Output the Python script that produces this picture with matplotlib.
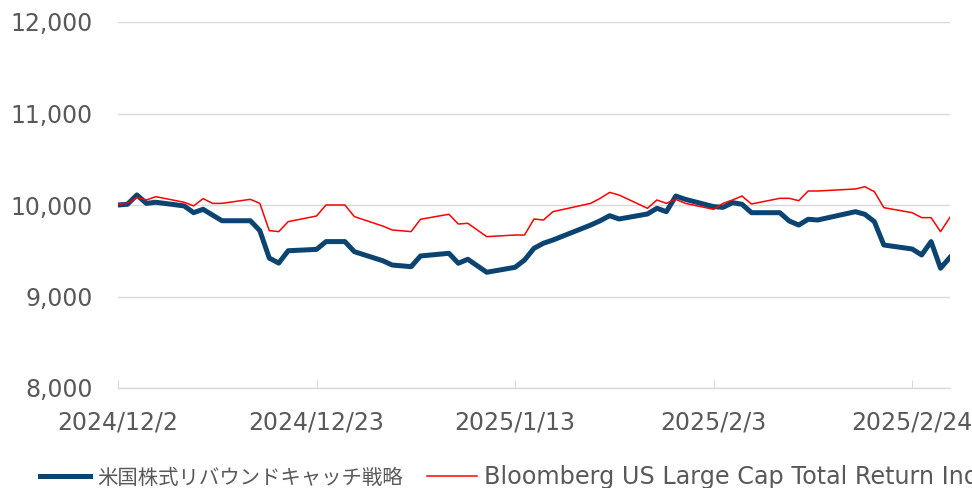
import matplotlib
matplotlib.use("Agg")
import matplotlib.pyplot as plt
import pandas as pd

plt.rcParams["font.family"] = ["DejaVu Sans", "Noto Sans CJK JP"]

# US trading days, Dec 2024 - Feb 2025
holidays = ["2024-12-25", "2025-01-01", "2025-01-09", "2025-01-20", "2025-02-17"]
dates = pd.bdate_range("2024-12-02", "2025-02-28")
dates = dates[~dates.isin(pd.to_datetime(holidays))]

strategy = [
    10000, 10008, 10110, 10018, 10030, 9990, 9916, 9953, 9890, 9828,
    9828, 9720, 9420, 9365, 9500, 9515, 9600, 9600, 9490, 9391, 9344,
    9326, 9443, 9472, 9363, 9407, 9265, 9319, 9399, 9527, 9582,
    9617, 9781, 9828, 9883, 9847, 9902, 9964, 9927, 10098, 10062,
    9982, 9975, 10026, 10008, 9916, 9916, 9825, 9781, 9844, 9836,
    9927, 9898, 9818, 9563, 9519, 9454, 9600, 9309, 9428,
]
index = [
    10008, 10018, 10084, 10055, 10091, 10030, 9990, 10070, 10018, 10018,
    10062, 10018, 9720, 9709, 9818, 9880, 10000, 10000, 9873, 9770, 9727,
    9709, 9844, 9899, 9792, 9800, 9654, 9672, 9672, 9847, 9836,
    9927, 10018, 10073, 10138, 10109, 9964, 10055, 10018, 10062, 10018,
    9953, 10018, 10055, 10098, 10011, 10073, 10073, 10047, 10153, 10153,
    10175, 10200, 10146, 9971, 9916, 9862, 9862, 9709, 9866,
]

labels = ["米国株式リバウンドキャッチ戦略", "Bloomberg US Large Cap Total Return Index"]
tick_dates = pd.to_datetime(["2024-12-02", "2024-12-23", "2025-01-13", "2025-02-03", "2025-02-24"])
tick_labels = ["2024/12/2", "2024/12/23", "2025/1/13", "2025/2/3", "2025/2/24"]
yticks = [8000, 9000, 10000, 11000, 12000]

fig = plt.figure(figsize=(9.72, 4.88), dpi=100)
ax = fig.add_axes([118 / 972, 1 - 388 / 488, (950 - 118) / 972, (388 - 22) / 488])

ax.plot(dates, strategy, color="#0B4470", lw=3.6, label=labels[0], zorder=3,
        solid_joinstyle="round")
ax.plot(dates, index, color="#FF0000", lw=1.1, label=labels[1], zorder=4)

ax.set_xlim(dates[0], dates[-1])
ax.set_ylim(8000, 12000)
ax.set_yticks(yticks)
ax.set_yticklabels([f"{v:,}" for v in yticks])
ax.set_xticks(tick_dates)
ax.set_xticklabels(tick_labels)

ax.grid(axis="y", color="#D9D9D9", lw=1.0)
ax.set_axisbelow(True)
for s in ["top", "right", "left"]:
    ax.spines[s].set_visible(False)
ax.spines["bottom"].set_color("#D9D9D9")
ax.spines["bottom"].set_linewidth(1.0)
ax.tick_params(axis="y", length=0, pad=18, labelsize=17, labelcolor="#595959")
ax.tick_params(axis="x", direction="in", length=6, color="#D9D9D9",
               pad=16, labelsize=17, labelcolor="#595959")

leg = fig.legend(loc="center left", bbox_to_anchor=(40 / 972, 11 / 488), ncol=2,
                 frameon=False, fontsize=17.2, handlelength=2.1, borderpad=0,
                 borderaxespad=0, columnspacing=1.0, handletextpad=0.3,
                 labelcolor="#595959")
# the Japanese label is set a bit narrower in the original
leg.get_texts()[0].set_fontsize(14.7)

fig.savefig("out.png", dpi=100)
